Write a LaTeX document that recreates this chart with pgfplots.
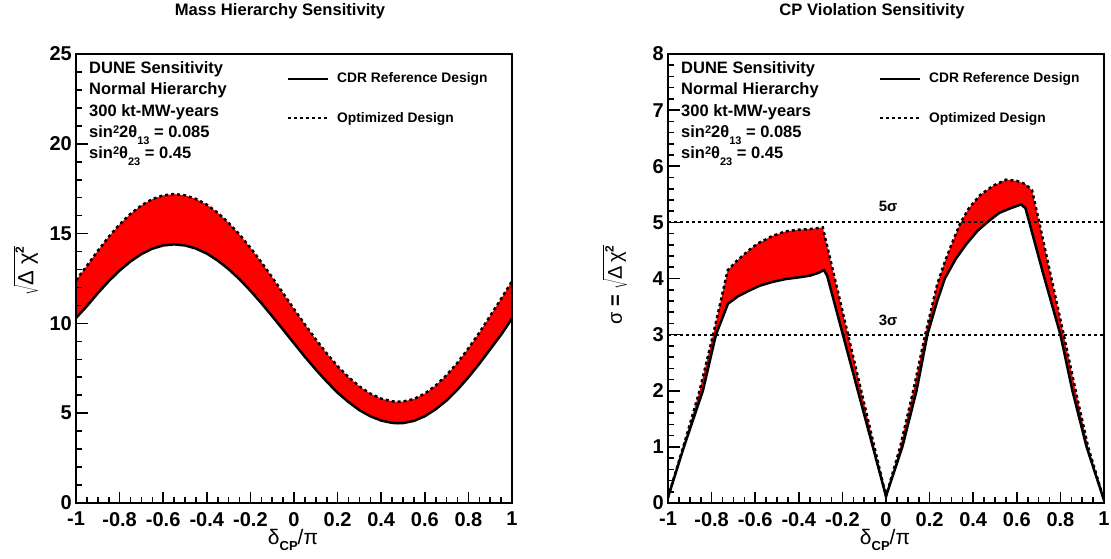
\documentclass[border=0pt]{standalone}
\usepackage{fontspec}
\setmainfont{Liberation Sans}
\usepackage{pgfplots}
\usepackage{pgfplotstable}
\pgfplotsset{compat=1.18}

\newcommand{\tickfont}{\fontsize{20}{20}\selectfont\bfseries}
\newcommand{\lowidx}[1]{\raisebox{-0.4em}{\fontsize{11}{11}\selectfont #1}}
\newcommand{\highidx}[1]{\raisebox{0.26em}{\fontsize{11}{11}\selectfont #1}}

% mass hierarchy: x, CDR reference, optimized
\pgfplotstableread{
x ref opt
-1.00 10.30 12.40
-0.95 10.96 13.21
-0.90 11.68 14.04
-0.85 12.35 14.82
-0.80 12.94 15.51
-0.75 13.45 16.10
-0.70 13.86 16.57
-0.65 14.16 16.92
-0.60 14.34 17.13
-0.55 14.40 17.20
-0.50 14.34 17.13
-0.45 14.17 16.93
-0.40 13.89 16.61
-0.35 13.50 16.16
-0.30 13.02 15.60
-0.25 12.46 14.95
-0.20 11.82 14.21
-0.15 11.13 13.41
-0.10 10.40 12.56
-0.05 9.65 11.68
0.00 8.89 10.80
0.05 8.14 9.94
0.10 7.43 9.11
0.15 6.76 8.33
0.20 6.14 7.62
0.25 5.62 7.01
0.30 5.17 6.49
0.35 4.83 6.09
0.40 4.59 5.81
0.45 4.46 5.66
0.48 4.44 5.64
0.50 4.45 5.65
0.55 4.57 5.79
0.60 4.83 6.09
0.65 5.22 6.54
0.70 5.71 7.12
0.75 6.31 7.81
0.80 7.00 8.61
0.85 7.75 9.48
0.90 8.56 10.42
0.95 9.37 11.37
1.00 10.28 12.35
}\mhdata

% CP violation, CDR reference design
\pgfplotstableread{
x y
-1.00 0.10
-0.927 1.00
-0.84 2.00
-0.78 3.00
-0.725 3.55
-0.68 3.68
-0.63 3.78
-0.58 3.87
-0.52 3.94
-0.46 3.99
-0.40 4.02
-0.35 4.05
-0.31 4.10
-0.285 4.15
-0.27 4.05
0.00 0.12
0.075 1.00
0.14 2.00
0.19 3.00
0.235 3.60
0.27 4.00
0.32 4.35
0.37 4.62
0.42 4.85
0.47 5.02
0.52 5.17
0.57 5.25
0.62 5.32
0.64 5.25
0.72 4.10
0.80 3.00
0.855 2.00
0.92 1.00
1.00 0.05
}\cpref

% CP violation, optimized design
\pgfplotstableread{
x y
-1.00 0.10
-0.93 1.00
-0.855 2.00
-0.79 3.05
-0.726 4.15
-0.68 4.33
-0.63 4.50
-0.59 4.62
-0.52 4.76
-0.46 4.84
-0.40 4.87
-0.35 4.88
-0.29 4.91
0.00 0.12
0.065 1.00
0.125 2.00
0.18 3.00
0.235 3.90
0.27 4.30
0.30 4.60
0.34 4.98
0.38 5.25
0.43 5.48
0.49 5.65
0.55 5.76
0.60 5.74
0.64 5.68
0.67 5.57
0.70 5.05
0.815 3.00
0.87 2.00
0.927 1.00
1.00 0.05
}\cpopt

\tikzset{
  cdr/.style={black, line width=2.5pt},
  opt/.style={black, line width=2.5pt, dash pattern=on 3pt off 3pt},
}

\pgfplotsset{
  rootpad/.style={
    scale only axis, width=436pt, height=449pt, anchor=south west,
    xmin=-1, xmax=1, axis on top,
    axis line style={line width=1.2pt},
    tick align=inside, tick pos=left,
    major tick length=11.5pt, minor tick length=6pt,
    every tick/.append style={black, line width=1.6pt},
    xtick={-1,-0.8,-0.6,-0.4,-0.2,0,0.2,0.4,0.6,0.8,1},
    xticklabels={-1,-0.8,-0.6,-0.4,-0.2,0,0.2,0.4,0.6,0.8,1},
    minor x tick num=3,
    ticklabel style={font=\tickfont},
    xticklabel style={inner sep=0pt, anchor=north, yshift=-9pt},
    yticklabel style={inner sep=0pt, anchor=east, xshift=-4pt},
  },
}

\newcommand{\infobox}[1]{%
  \begin{scope}[x=1pt, y=1pt, xshift=#1]
  \begin{scope}[font=\fontsize{16.5}{16.5}\selectfont\bfseries]
    \node[anchor=base west, inner sep=0pt] at (89,484.5) {DUNE Sensitivity};
    \node[anchor=base west, inner sep=0pt] at (89,463.5) {Normal Hierarchy};
    \node[anchor=base west, inner sep=0pt] at (89,441) {300 kt-MW-years};
    \node[anchor=base west, inner sep=0pt] at (89,420) {sin\highidx{2}2θ\lowidx{13} = 0.085};
    \node[anchor=base west, inner sep=0pt] at (89,399) {sin\highidx{2}θ\lowidx{23} = 0.45};
  \end{scope}
  \draw[cdr] (288,479) -- (328,479);
  \draw[opt] (288,440) -- (328,440);
  \begin{scope}[font=\fontsize{13.8}{14}\selectfont\bfseries]
    \node[anchor=base west, inner sep=0pt] at (337,475) {CDR Reference Design};
    \node[anchor=base west, inner sep=0pt] at (337,435) {Optimized Design};
  \end{scope}
  \end{scope}}

\begin{document}
\begin{tikzpicture}
\path[use as bounding box] (0pt,0pt) rectangle (1111pt,558pt);

% ---------------- Mass hierarchy ----------------
\begin{axis}[rootpad, name=mh, at={(76pt,55pt)},
    ymin=0, ymax=25, ytick={0,5,10,15,20,25},
    yticklabels={0,5,10,15,20,25}, minor y tick num=4]
% band: red under the optimized curve, white under the reference curve
\addplot[fill=red, draw=none] table[x=x, y=opt] {\mhdata} \closedcycle;
\addplot[fill=white, draw=none] table[x=x, y=ref] {\mhdata} \closedcycle;
\addplot[cdr] table[x=x, y=ref] {\mhdata};
\addplot[opt] table[x=x, y=opt] {\mhdata};
\end{axis}
\draw[line width=2.2pt] (mh.north west) -- (mh.south west) -- (mh.south east);

% ---------------- CP violation ----------------
\begin{axis}[rootpad, name=cp, at={(668pt,55pt)},
    ymin=0, ymax=8, ytick={0,1,2,3,4,5,6,7,8},
    yticklabels={0,1,2,3,4,5,6,7,8}, minor y tick num=4]
\addplot[fill=red, draw=none] table[x=x, y=y] {\cpopt} \closedcycle;
\addplot[fill=white, draw=none] table[x=x, y=y] {\cpref} \closedcycle;
\addplot[cdr] table[x=x, y=y] {\cpref};
\addplot[opt] table[x=x, y=y] {\cpopt};
\addplot[opt, line width=2pt] coordinates {(-1,5) (1,5)};
\addplot[opt, line width=2pt] coordinates {(-1,3) (1,3)};
\node[font=\fontsize{15}{15}\selectfont\bfseries] at (axis cs:0.01,5.28) {5σ};
\node[font=\fontsize{15}{15}\selectfont\bfseries] at (axis cs:0.01,3.26) {3σ};
\end{axis}
\draw[line width=2.2pt] (cp.north west) -- (cp.south west) -- (cp.south east);

% ---------------- titles, labels, text ----------------
\begin{scope}[x=1pt, y=1pt]
\node[anchor=base, font=\fontsize{16.6}{16.6}\selectfont\bfseries] at (280,542) {Mass Hierarchy Sensitivity};
\node[anchor=base, font=\fontsize{16.6}{16.6}\selectfont\bfseries] at (872,542) {CP Violation Sensitivity};

\node[font=\fontsize{21}{21}\selectfont] at (293,18) {δ\raisebox{-0.3em}{\fontsize{13}{13}\selectfont\bfseries CP}/π};
\node[font=\fontsize{21}{21}\selectfont] at (885,18) {δ\raisebox{-0.3em}{\fontsize{13}{13}\selectfont\bfseries CP}/π};

\node[rotate=90, font=\fontsize{22}{26}\selectfont] at (26,287)
  {$\sqrt{\mbox{Δ\ χ}^{\mbox{\fontsize{12}{12}\selectfont\bfseries 2}}}$};
\node[rotate=90, font=\fontsize{20}{24}\selectfont] at (615,273)
  {σ {\bfseries =} $\sqrt{\mbox{Δ\,χ}^{\mbox{\fontsize{12}{12}\selectfont\bfseries 2}}}$};
\end{scope}

\infobox{0pt}
\infobox{592pt}
\end{tikzpicture}
\end{document}
